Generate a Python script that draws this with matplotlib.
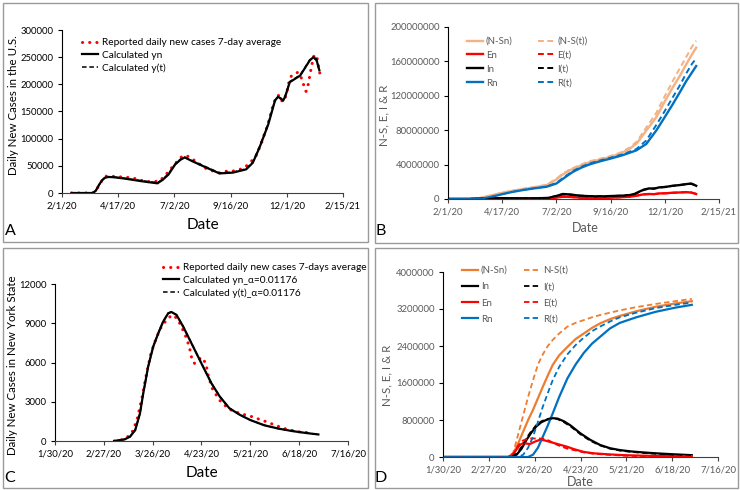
import numpy as np
import pandas as pd
import matplotlib
matplotlib.use("Agg")
import matplotlib.pyplot as plt
from matplotlib.patches import Rectangle
from matplotlib.ticker import StrMethodFormatter

plt.rcParams['font.family'] = ['Lato', 'DejaVu Sans']

# ---------------- data ----------------
# A: U.S. daily new cases, x = days since 2/1/20
a_rep_days = [13, 20, 30, 40, 45, 50, 55, 60, 65, 75, 85, 95, 105, 115, 125, 132, 140, 148, 155, 162,
              168, 175, 185, 195, 205, 213, 220, 230, 240, 248, 255, 262, 270, 278, 285, 290, 294, 297,
              300, 304, 307, 310, 315, 319, 323, 325, 328, 330, 333, 335, 337, 340, 342, 345, 348, 349]
a_rep = [0, 0, 0, 0, 2000, 14000, 25000, 31000, 31000, 30000, 29000, 28000, 24000, 21000, 21000, 22000,
         33000, 46000, 57000, 67000, 69000, 64000, 54000, 45000, 40000, 37000, 40000, 40000, 43000, 48000,
         57000, 67000, 93000, 125000, 160000, 178000, 180000, 170000, 168000, 185000, 205000, 215000,
         220000, 222000, 215000, 205000, 195000, 187000, 200000, 215000, 230000, 250000, 255000, 248000,
         225000, 218000]
a_calc_days = [13, 42, 46, 50, 54, 58, 63, 70, 85, 108, 129, 136, 144, 153, 160, 166, 176, 194, 213, 231,
               249, 258, 267, 279, 288, 292, 296, 299, 302, 308, 315, 322, 329, 335, 340, 344, 348]
a_yn = [0, 0, 5000, 15000, 23000, 28000, 29500, 29000, 26500, 21600, 17800, 24000, 34000, 52500, 61000,
        65500, 58600, 47500, 36000, 37500, 43500, 55600, 83300, 126500, 170000, 177000, 174000, 170000,
        178000, 204000, 210000, 216000, 231000, 244000, 250000, 246000, 226000]
a_yt = [0, 0, 4000, 14000, 23500, 28500, 30000, 29500, 27000, 22500, 19000, 25000, 35500, 53500, 62000,
        66000, 59500, 48500, 37000, 38500, 44500, 57000, 85000, 128000, 171000, 176000, 173000, 171000,
        180000, 205000, 211000, 217000, 232000, 245000, 249000, 244000, 225000]
a_ticks = ['2/1/20', '4/17/20', '7/2/20', '9/16/20', '12/1/20', '2/15/21']

# B: U.S. compartments (millions), x = days since 2/1/20
b_s_days = [0, 35, 45, 59, 77, 90, 105, 120, 138, 152, 160, 171, 185, 199, 214, 228, 242, 255, 265, 273,
            282, 292, 303, 315, 325, 334, 342, 348]
b_nsn = [0, 0, 1.2, 3.8, 7.3, 9.3, 11.5, 13.5, 16, 22.7, 28, 33.5, 38.5, 43, 46, 49, 53, 58.5, 65, 74,
         84, 95, 112, 129.6, 143, 156.5, 168, 176]
b_nst = [0, 0, 1.3, 4.0, 7.6, 9.6, 11.8, 13.8, 16.5, 23.5, 29, 34.5, 39.5, 44, 47, 50, 54, 60, 67, 77,
         88, 100, 118, 137, 152, 165, 177, 184]
b_r_days = [0, 45, 60, 77, 90, 105, 120, 138, 152, 162, 175, 187, 199, 214, 228, 245, 264, 278, 292, 303,
            315, 325, 334, 342, 348]
b_rn = [0, 0, 2.5, 5.8, 8.2, 10.4, 12.3, 14.2, 18, 24, 31.5, 36.5, 40.4, 44, 47, 51, 56.5, 64, 79.6, 94,
        110, 124, 137, 147, 154.6]
b_rt = [0, 0, 2.6, 6.0, 8.5, 10.7, 12.6, 14.6, 18.6, 25, 32.5, 37.5, 41.5, 45, 48, 52, 58, 68, 86, 101,
        118, 132, 146, 157, 163.5]
b_ie_days = [0, 30, 45, 60, 90, 120, 140, 150, 161, 172, 185, 200, 215, 231, 245, 255, 262, 268, 275, 282,
             289, 296, 305, 315, 325, 334, 341, 348]
b_in = [0, 0, 0.8, 1.0, 0.9, 0.8, 1.2, 3.0, 5.8, 5.2, 3.8, 3.2, 3.0, 3.5, 3.9, 4.6, 6.0, 8.5, 11, 12.3,
        12.0, 13.5, 14, 15.4, 16.2, 17.3, 18, 15.4]
b_it = [0, 0, 0.7, 0.9, 0.8, 0.8, 1.3, 3.2, 5.5, 5.0, 3.9, 3.3, 3.1, 3.5, 3.9, 4.5, 5.8, 8.2, 10.7, 12.0,
        12.3, 13.2, 14.2, 15.2, 16.3, 17.2, 17.6, 15.8]
b_en = [0, 0, 0.3, 0.4, 0.3, 0.3, 0.5, 1.4, 2.7, 2.4, 1.5, 1.3, 1.3, 1.6, 2.2, 2.7, 3.5, 4.5, 5.5, 5.8,
        5.6, 6.5, 6.6, 7.3, 7.6, 8.0, 7.5, 5.8]
b_et = [0, 0, 0.3, 0.4, 0.3, 0.3, 0.5, 1.3, 2.5, 2.3, 1.5, 1.3, 1.3, 1.6, 2.1, 2.6, 3.4, 4.4, 5.3, 5.7,
        5.7, 6.3, 6.7, 7.2, 7.6, 7.9, 7.6, 6.0]

# C: New York State daily new cases, x = days since 1/30/20
c_rep_days = [34, 38, 41, 44, 47, 50, 52.5, 55, 58, 61, 64, 67, 70, 72.5, 75, 77, 78.6, 80, 82, 84, 86.5,
              88, 90.5, 95, 100, 106, 112, 121, 131, 139, 147]
c_rep = [0, 80, 250, 590, 1600, 3400, 5170, 6700, 7850, 8740, 9250, 9630, 9380, 8740, 7980, 7210, 6190,
         5940, 6190, 6400, 5940, 4920, 3900, 3010, 2420, 2100, 1900, 1480, 970, 710, 620]
c_calc_days = [34, 40, 43, 46, 48.7, 50.6, 53.4, 56.3, 59.2, 62, 64.9, 66.8, 69.7, 73.5, 77.3, 81.1, 84.9,
               89.7, 94.5, 100, 106, 112, 120, 128, 136, 144, 151]
c_yn = [0, 130, 330, 840, 2100, 3640, 5680, 7210, 8230, 9120, 9760, 9860, 9630, 8740, 7720, 6700, 5680,
        4410, 3390, 2500, 2000, 1600, 1200, 950, 760, 610, 500]
c_yt = [0, 120, 320, 820, 2080, 3620, 5660, 7200, 8240, 9140, 9780, 9880, 9650, 8760, 7740, 6720, 5690,
        4420, 3400, 2510, 2000, 1600, 1210, 950, 760, 610, 500]
c_ticks = ['1/30/20', '2/27/20', '3/26/20', '4/23/20', '5/21/20', '6/18/20', '7/16/20']

# D: New York State compartments (millions), x = days since 1/30/20
d_s_days = [0, 40, 43, 46, 49, 52, 55, 58, 61, 64, 67, 71, 76, 81, 86, 91, 96, 102, 108, 118, 130, 142, 152]
d_nsn = [0, 0, 0.08, 0.3, 0.55, 0.8, 1.02, 1.27, 1.52, 1.76, 1.99, 2.2, 2.38, 2.55, 2.67, 2.79, 2.89, 2.98,
         3.05, 3.15, 3.25, 3.32, 3.37]
d_nst = [0, 0, 0.1, 0.5, 0.9, 1.3, 1.66, 2.0, 2.22, 2.4, 2.53, 2.67, 2.82, 2.9, 2.96, 3.02, 3.07, 3.12,
         3.17, 3.24, 3.31, 3.37, 3.42]
d_rt_days = [0, 46, 49, 52, 55, 58, 61, 64, 67, 71, 76, 81, 86, 91, 96, 102, 108, 118, 130, 142, 152]
d_rt = [0, 0, 0.05, 0.2, 0.44, 0.76, 1.09, 1.38, 1.66, 1.95, 2.22, 2.42, 2.58, 2.72, 2.82, 2.93, 3.02,
        3.12, 3.22, 3.29, 3.34]
d_rn_days = [0, 52, 55, 58, 61, 64, 67, 71, 76, 81, 86, 91, 96, 102, 108, 118, 130, 142, 152]
d_rn = [0, 0, 0.05, 0.2, 0.44, 0.68, 0.94, 1.3, 1.7, 2.0, 2.25, 2.45, 2.6, 2.78, 2.9, 3.02, 3.14, 3.23, 3.29]
d_i_days = [0, 40, 45, 48, 51, 54, 57, 60, 63, 67, 70, 74, 78, 84, 90, 96, 102, 108, 115, 122, 130, 140, 152]
d_in = [0, 0, 0.05, 0.18, 0.37, 0.53, 0.66, 0.75, 0.80, 0.84, 0.83, 0.77, 0.68, 0.51, 0.37, 0.26, 0.19,
        0.15, 0.12, 0.10, 0.08, 0.06, 0.04]
d_it = [0, 0, 0.07, 0.22, 0.41, 0.56, 0.69, 0.77, 0.82, 0.84, 0.82, 0.75, 0.66, 0.49, 0.35, 0.25, 0.18,
        0.14, 0.11, 0.09, 0.07, 0.05, 0.04]
d_e_days = [0, 40, 43, 45, 47, 49, 51, 53, 56, 59, 62, 65, 68, 72, 76, 80, 86, 92, 100, 110, 120, 135, 152]
d_en = [0, 0, 0.06, 0.17, 0.26, 0.30, 0.29, 0.28, 0.33, 0.37, 0.36, 0.33, 0.30, 0.26, 0.22, 0.17, 0.11,
        0.08, 0.06, 0.04, 0.03, 0.02, 0.02]
d_et = [0, 0, 0.08, 0.2, 0.3, 0.36, 0.38, 0.40, 0.40, 0.40, 0.39, 0.35, 0.29, 0.23, 0.18, 0.15, 0.10,
        0.07, 0.05, 0.03, 0.02, 0.015, 0.01]

# ---------------- figure ----------------
W, H = 740, 490
fig = plt.figure(figsize=(W / 100, H / 100), dpi=100)

def rect(l, t, r, b):
    return [l / W, 1 - b / H, (r - l) / W, (b - t) / H]

def tick_pos(labels, start):
    return list((pd.to_datetime(labels, format='%m/%d/%y') - pd.Timestamp(start)).days)

# panel frames
for (l, t, r, b) in [(3, 3, 368, 242), (375, 3, 738, 243), (3, 248, 368, 488), (375, 248, 738, 488)]:
    fig.add_artist(Rectangle((l / W, 1 - b / H), (r - l) / W, (b - t) / H, transform=fig.transFigure,
                             fill=False, edgecolor='#9a9a9a', lw=1))

GRAY = '#595959'
DOT = dict(color='red', lw=2.2, linestyle=(0, (0.05, 2.3)), dash_capstyle='round')
DASH = (0, (3, 1.8))

def style(ax, color, ticks, start, ymax, ystep):
    pos = tick_pos(ticks, start)
    ax.set_xlim(pos[0], pos[-1])
    ax.set_xticks(pos)
    ax.set_xticklabels(ticks)
    ax.set_ylim(0, ymax)
    ax.set_yticks(np.arange(0, ymax + 1, ystep))
    ax.yaxis.set_major_formatter(StrMethodFormatter('{x:.0f}'))
    for s in ['top', 'right']:
        ax.spines[s].set_visible(False)
    ax.spines['left'].set_color('black')
    ax.spines['bottom'].set_color('#404040')
    ax.tick_params(direction='out', length=3, width=0.8, labelsize=6.8, colors=color, pad=3)
    ax.tick_params(axis='x', colors='#404040', labelcolor=color)
    ax.tick_params(axis='y', colors='black', labelcolor=color)
    ax.set_facecolor('none')

# ---- A ----
axA = fig.add_axes(rect(62, 30, 343, 193))
axA.plot(a_rep_days, a_rep, label='Reported daily new cases 7-day average', **DOT)
axA.plot(a_calc_days, a_yn, color='black', lw=1.6, label='Calculated yn')
axA.plot(a_calc_days, a_yt, color='black', lw=1.1, linestyle=DASH, label='Calculated y(t)')
style(axA, 'black', a_ticks, '2020-02-01', 300000, 50000)
axA.set_xlabel('Date', fontsize=11, va='center')
axA.xaxis.set_label_coords(0.502, -0.196)
axA.set_ylabel('Daily New Cases in the U.S.', fontsize=8.3, va='center')
axA.yaxis.set_label_coords(-0.171, 0.54)
axA.legend(loc='upper left', bbox_to_anchor=(82 / W, 1 - 38 / H), bbox_transform=fig.transFigure,
           frameon=False, fontsize=7.3, handlelength=1.6, handletextpad=0.35, labelspacing=0.35,
           borderpad=0, borderaxespad=0)

# ---- B ----
axB = fig.add_axes(rect(448, 27, 719, 199))
M = 1e6
lo = '#F4B183'
hB = []
hB += axB.plot(b_s_days, np.array(b_nsn) * M, color=lo, lw=1.7, label='(N-Sn)')
hB += axB.plot(b_ie_days, np.array(b_en) * M, color='red', lw=1.7, label='En')
hB += axB.plot(b_ie_days, np.array(b_in) * M, color='black', lw=1.7, label='In')
hB += axB.plot(b_r_days, np.array(b_rn) * M, color='#0070C0', lw=1.7, label='Rn')
hB += axB.plot(b_s_days, np.array(b_nst) * M, color=lo, lw=1.4, linestyle=DASH, label='(N-S(t))')
hB += axB.plot(b_ie_days, np.array(b_et) * M, color='red', lw=1.4, linestyle=DASH, label='E(t)')
hB += axB.plot(b_ie_days, np.array(b_it) * M, color='black', lw=1.4, linestyle=DASH, label='I(t)')
hB += axB.plot(b_r_days, np.array(b_rt) * M, color='#0070C0', lw=1.4, linestyle=DASH, label='R(t)')
style(axB, GRAY, a_ticks, '2020-02-01', 200000000, 40000000)
axB.set_xlabel('Date', fontsize=9, va='center', color=GRAY)
axB.xaxis.set_label_coords(0.506, -0.169)
axB.set_ylabel('N-S, E, I & R', fontsize=8.3, va='center', color=GRAY)
axB.yaxis.set_label_coords(-0.236, 0.488)
axB.legend(handles=hB, ncol=2, loc='upper left', bbox_to_anchor=(467 / W, 1 - 37 / H),
           bbox_transform=fig.transFigure, frameon=False, fontsize=7, handlelength=1.6,
           handletextpad=0.35, labelspacing=0.5, columnspacing=2.6, borderpad=0, borderaxespad=0,
           labelcolor=GRAY)

# ---- C ----
axC = fig.add_axes(rect(55, 284, 348, 441))
axC.plot(c_rep_days, c_rep, label='Reported daily new cases 7-days average', **DOT)
axC.plot(c_calc_days, c_yn, color='black', lw=1.6, label='Calculated yn_\u03b1=0.01176')
axC.plot(c_calc_days, c_yt, color='black', lw=1.1, linestyle=DASH, label='Calculated y(t)_\u03b1=0.01176')
style(axC, 'black', c_ticks, '2020-01-30', 12000, 3000)
axC.set_xlabel('Date', fontsize=11, va='center')
axC.xaxis.set_label_coords(0.502, -0.204)
axC.set_ylabel('Daily New Cases in New York State', fontsize=8.3, va='center')
axC.yaxis.set_label_coords(-0.145, 0.484)
axC.legend(loc='upper left', bbox_to_anchor=(163 / W, 1 - 263 / H), bbox_transform=fig.transFigure,
           frameon=False, fontsize=7.3, handlelength=1.6, handletextpad=0.35, labelspacing=0.35,
           borderpad=0, borderaxespad=0)

# ---- D ----
axD = fig.add_axes(rect(443, 272, 718, 457))
do = '#ED7D31'
hD = []
hD += axD.plot(d_s_days, np.array(d_nsn) * M, color=do, lw=1.6, label='(N-Sn)')
hD += axD.plot(d_i_days, np.array(d_in) * M, color='black', lw=1.6, label='In')
hD += axD.plot(d_e_days, np.array(d_en) * M, color='red', lw=1.6, label='En')
hD += axD.plot(d_rn_days, np.array(d_rn) * M, color='#0070C0', lw=1.6, label='Rn')
hD += axD.plot(d_s_days, np.array(d_nst) * M, color=do, lw=1.3, linestyle=DASH, label='N-S(t)')
hD += axD.plot(d_i_days, np.array(d_it) * M, color='black', lw=1.3, linestyle=DASH, label='I(t)')
hD += axD.plot(d_e_days, np.array(d_et) * M, color='red', lw=1.3, linestyle=DASH, label='E(t)')
hD += axD.plot(d_rt_days, np.array(d_rt) * M, color='#0070C0', lw=1.3, linestyle=DASH, label='R(t)')
style(axD, GRAY, c_ticks, '2020-01-30', 4000000, 800000)
axD.set_xlabel('Date', fontsize=9, va='center', color=GRAY)
axD.xaxis.set_label_coords(0.498, -0.135)
axD.set_ylabel('N-S, E, I & R', fontsize=8.3, va='center', color=GRAY)
axD.yaxis.set_label_coords(-0.204, 0.443)
axD.legend(handles=hD, ncol=2, loc='upper left', bbox_to_anchor=(462 / W, 1 - 266 / H),
           bbox_transform=fig.transFigure, frameon=False, fontsize=7, handlelength=1.6,
           handletextpad=0.35, labelspacing=0.75, columnspacing=1.7, borderpad=0, borderaxespad=0,
           labelcolor=GRAY)

# panel letters
for letter, (x, y) in zip('ABCD', [(10, 231), (381, 231), (10, 478), (381, 478)]):
    fig.text(x / W, 1 - y / H, letter, fontsize=11.5, ha='center', va='center')

fig.savefig('out.png', dpi=100)
